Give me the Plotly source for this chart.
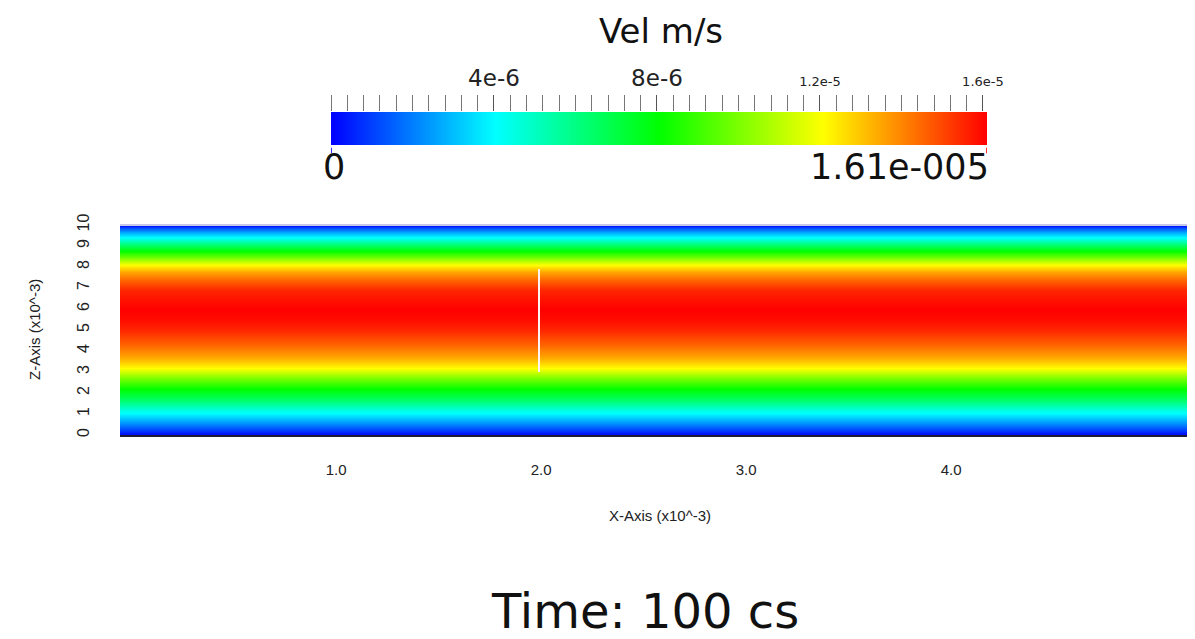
import plotly.graph_objects as go

# ---- data ----
# velocity profile across the channel (z in 1e-3 m, velocity in 1e-6 m/s)
z_pos = [0, 0.38, 0.81, 1.19, 1.67, 2.19, 2.71, 3.19, 3.67, 4.29, 5.0, 5.48,
         5.95, 6.33, 6.90, 7.38, 7.76, 8.10, 8.43, 8.76, 9.10, 9.38, 9.62, 9.86, 10.0]
vel_e6 = [0, 1.6, 3.2, 4.5, 6.4, 8.05, 10.0, 12.1, 13.4, 14.5, 15.5, 15.9,
          16.1, 15.9, 15.5, 14.5, 13.5, 12.1, 10.0, 8.05, 6.1, 4.2, 2.9, 1.3, 0]
x_cols = [-0.054, 5.3]          # x extent of the slice (1e-3 m)
x_range = [-0.054, 5.229]
z_range = [0, 10]

x_ticks = [1.0, 2.0, 3.0, 4.0]
x_ticktext = ["1.0", "2.0", "3.0", "4.0"]
z_ticks = [0, 1, 2, 3, 4, 5, 6, 7, 8, 9, 10]

probe_x = [1.99, 1.99]
probe_z = [3.0, 7.9]

vmin, vmax = 0.0, 1.61e-5
cb_ticks = [4e-6, 8e-6, 1.2e-5, 1.6e-5]
cb_ticktext = ["4e-6", "8e-6",
               "<span style='font-size:13px'>1.2e-5</span>",
               "<span style='font-size:13px'>1.6e-5</span>"]
cb_minor_step = 4e-7
cb_min_label = "0"
cb_max_label = "1.61e-005"

title_text = "Vel m/s"
time_text = "Time: 100 cs"
x_title = "X-Axis (x10^-3)"
z_title = "Z-Axis (x10^-3)"

colorscale = [[0.0, "rgb(0,0,255)"], [0.25, "rgb(0,255,255)"],
              [0.5, "rgb(0,255,0)"], [0.75, "rgb(255,255,0)"],
              [1.0, "rgb(255,0,0)"]]

# ---- figure ----
W, H = 1195, 639
OX, OY = 8, 8   # page body margin


def px(x):
    return (x - OX) / W


def py(y):
    return 1 - (y - OY) / H


vel = [v * 1e-6 for v in vel_e6]
zgrid = [[v, v] for v in vel]

fig = go.Figure()
fig.add_trace(go.Heatmap(x=x_cols, y=z_pos, z=zgrid, zsmooth="best",
                         colorscale=colorscale, zmin=vmin, zmax=vmax,
                         showscale=False, hoverinfo="skip"))
fig.add_trace(go.Scatter(x=probe_x, y=probe_z, mode="lines",
                         line=dict(color="#fff4f4", width=2),
                         showlegend=False, hoverinfo="skip"))
# colour legend bar
fig.add_trace(go.Heatmap(x=[vmin, vmax], y=[0, 1], z=[[vmin, vmax], [vmin, vmax]],
                         zsmooth="best", colorscale=colorscale, zmin=vmin, zmax=vmax,
                         showscale=False, xaxis="x2", yaxis="y2", hoverinfo="skip"))

tick_font = dict(family="Liberation Sans, Arial, sans-serif", size=15, color="#222")
ytick_font = dict(family="Liberation Sans, Arial, sans-serif", size=16, color="#222")
big_font = "DejaVu Sans, sans-serif"

fig.update_layout(
    width=W, height=H, margin=dict(l=0, r=0, t=0, b=0, autoexpand=False),
    paper_bgcolor="white", plot_bgcolor="white", showlegend=False,
    xaxis=dict(domain=[px(120), 1], range=x_range, tickvals=x_ticks, ticktext=x_ticktext,
               ticks="outside", ticklen=20, tickcolor="rgba(0,0,0,0)", automargin=False,
               showgrid=False, zeroline=False, showline=True,
               linecolor="#1c1c3a", linewidth=2, tickfont=tick_font),
    yaxis=dict(domain=[py(435), py(225)], range=z_range, tickvals=z_ticks,
               tickangle=-90, ticks="outside", ticklen=24, tickcolor="rgba(0,0,0,0)",
               automargin=False,
               showgrid=False, zeroline=False, showline=False, tickfont=ytick_font),
    xaxis2=dict(domain=[px(331), px(987)], range=[vmin, vmax], anchor="y2", side="top",
                tickvals=cb_ticks, ticktext=cb_ticktext, ticks="outside", ticklen=16,
                tickcolor="#555", tickwidth=1, automargin=False,
                minor=dict(tick0=0, dtick=cb_minor_step, ticks="outside", ticklen=16,
                           tickcolor="#777", tickwidth=1),
                showgrid=False, zeroline=False, showline=False,
                tickfont=dict(family=big_font, size=23, color="#222")),
    xaxis3=dict(domain=[px(331), px(987)], range=[vmin, vmax], anchor="y2", side="top",
                overlaying="x2", tickvals=cb_ticks, showticklabels=False, automargin=False,
                ticks="inside", ticklen=13, tickcolor="#444", tickwidth=1,
                showgrid=False, zeroline=False),
    yaxis2=dict(domain=[py(145), py(112)], range=[0, 1], anchor="x2",
                visible=False, automargin=False),
)

fig.add_annotation(text=title_text, x=px(661), y=py(31), xref="paper", yref="paper",
                   xanchor="center", yanchor="middle", showarrow=False,
                   font=dict(family=big_font, size=34, color="#111"))
fig.add_annotation(text=cb_min_label, x=vmin, xref="x2", xanchor="left", xshift=-10,
                   y=py(167), yref="paper", yanchor="middle", showarrow=False,
                   font=dict(family=big_font, size=35, color="#111"))
fig.add_annotation(text=cb_max_label, x=vmax, xref="x2", xanchor="right", xshift=4,
                   y=py(167), yref="paper", yanchor="middle", showarrow=False,
                   font=dict(family=big_font, size=35, color="#111"))
fig.add_annotation(text=time_text, x=px(645), y=py(611), xref="paper", yref="paper",
                   xanchor="center", yanchor="middle", showarrow=False,
                   font=dict(family=big_font, size=48, color="#111"))
fig.add_annotation(text=x_title, x=px(660), y=py(515), xref="paper", yref="paper",
                   xanchor="center", yanchor="middle", showarrow=False, font=tick_font)
fig.add_annotation(text=z_title, x=px(35), y=py(330), xref="paper", yref="paper",
                   xanchor="center", yanchor="middle", showarrow=False, textangle=-90,
                   font=tick_font)

# small coloured end ticks below the legend bar and light top edge of slice
fig.add_shape(type="line", xref="x2", yref="y2 domain", x0=vmin, x1=vmin, y0=-0.08, y1=-0.25,
              line=dict(color="#3030ff", width=2))
fig.add_shape(type="line", xref="x2", yref="y2 domain", x0=vmax, x1=vmax, y0=-0.08, y1=-0.25,
              line=dict(color="#ff3030", width=2))
fig.add_shape(type="line", xref="x domain", yref="y domain", x0=0, x1=1, y0=1, y1=1,
              line=dict(color="#c8c8ea", width=2))

fig.write_html("out.html")
